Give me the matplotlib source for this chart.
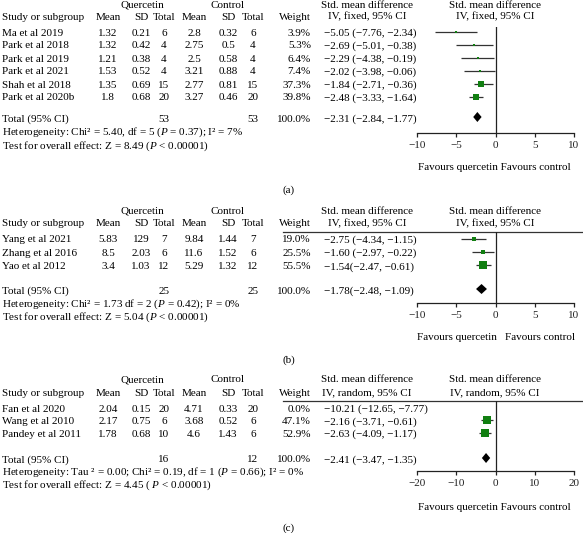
import matplotlib
matplotlib.use("Agg")
import matplotlib.pyplot as plt
from matplotlib.patches import Polygon

plt.rcParams['font.family'] = ['Liberation Serif', 'DejaVu Serif']
plt.rcParams['mathtext.fontset'] = 'custom'
plt.rcParams['mathtext.rm'] = 'Liberation Serif'
plt.rcParams['mathtext.it'] = 'Liberation Serif:italic'
plt.rcParams['mathtext.bf'] = 'Liberation Serif:bold'

# ---------------- data ----------------
A_studies = ["Ma et al 2019", "Park et al 2018", "Park et al 2019", "Park et al 2021",
             "Shah et al 2018", "Park et al 2020b"]
A_q_mean = [1.32, 1.32, 1.21, 1.53, 1.35, 1.8]
A_q_sd = [0.21, 0.42, 0.38, 0.52, 0.69, 0.68]
A_q_n = [6, 4, 4, 4, 15, 20]
A_c_mean = [2.8, 2.75, 2.5, 3.21, 2.77, 3.27]
A_c_sd = [0.32, 0.5, 0.58, 0.88, 0.81, 0.46]
A_c_n = [6, 4, 4, 4, 15, 20]
A_weight = [3.9, 5.3, 6.4, 7.4, 37.3, 39.8]
A_smd = [-5.05, -2.69, -2.29, -2.02, -1.84, -2.48]
A_lo = [-7.76, -5.01, -4.38, -3.98, -2.71, -3.33]
A_hi = [-2.34, -0.38, -0.19, -0.06, -0.36, -1.64]
A_total = [53, 53, 100.0, -2.31, -2.84, -1.77]

B_studies = ["Yang et al 2021", "Zhang et al 2016", "Yao et al 2012"]
B_q_mean = [5.83, 8.5, 3.4]
B_q_sd = [129, 2.03, 1.03]
B_q_n = [7, 6, 12]
B_c_mean = [9.84, 11.6, 5.29]
B_c_sd = [1.44, 1.52, 1.32]
B_c_n = [7, 6, 12]
B_weight = [19.0, 25.5, 55.5]
B_smd = [-2.75, -1.60, -1.54]
B_lo = [-4.34, -2.97, -2.47]
B_hi = [-1.15, -0.22, -0.61]
B_total = [25, 25, 100.0, -1.78, -2.48, -1.09]

C_studies = ["Fan et al 2020", "Wang et al 2010", "Pandey et al 2011"]
C_q_mean = [2.04, 2.17, 1.78]
C_q_sd = [0.15, 0.75, 0.68]
C_q_n = [20, 6, 10]
C_c_mean = [4.71, 3.68, 4.6]
C_c_sd = [0.33, 0.52, 1.43]
C_c_n = [20, 6, 6]
C_weight = [0.0, 47.1, 52.9]
C_smd = [-10.21, -2.16, -2.63]
C_lo = [-12.65, -3.71, -4.09]
C_hi = [-7.77, -0.61, -1.17]
C_total = [16, 12, 100.0, -2.41, -3.47, -1.35]

A_ticks = [-10, -5, 0, 5, 10]
B_ticks = [-10, -5, 0, 5, 10]
C_ticks = [-20, -10, 0, 10, 20]

A_het = ["Heterogeneity: Chi\u00b2 = 5.40, df = 5 ($\\mathit{P}$ = 0.37); I\u00b2 = 7%",
         "Test for overall effect: Z = 8.49 ($\\mathit{P}$ < 0.00001)"]
B_het = ["Heterogeneity: Chi\u00b2 = 1.73 df = 2 ($\\mathit{P}$ = 0.42); I\u00b2 = 0%",
         "Test for overall effect: Z = 5.04 ($\\mathit{P}$ < 0.00001)"]
C_het = ["Heterogeneity: Tau \u00b2 = 0.00; Chi\u00b2 = 0.19, df = 1 ($\\mathit{P}$ = 0.66); I\u00b2 = 0%",
         "Test for overall effect: Z = 4.45 ( $\\mathit{P}$ < 0.00001)"]

# ---------------- figure ----------------
W, H = 583, 533
fig = plt.figure(figsize=(W / 100, H / 100), dpi=100)
bg = fig.add_axes([0, 0, 1, 1])
bg.set_xlim(0, W)
bg.set_ylim(H, 0)
bg.axis('off')

FS = 8.0
GREEN = '#117f11'
MINUS = '\u2212'


def fmt(v):
    return f"{v:g}"


def fsmd(v):
    return f"{v:.2f}".replace('-', MINUS)


def ci_text(s, lo, hi, sep=" "):
    return f"{fsmd(s)}{sep}({fsmd(lo)}, {fsmd(hi)})"


X_NAME = 2
X_QM, X_QSD, X_QN = 108, 141, 164
X_CM, X_CSD, X_CN = 194, 228, 253
X_W = 311
X_CI = 324
X_LEFT, X_RIGHT = 417, 574


def panel(studies, qm, qsd, qn, cm, csd, cn, wt, smd, lo, hi, total, het,
          ticks, method, lay, seps, tot_sep, favours_split, label):
    t = lambda x, y, s, ha='left': bg.text(x, y, s, ha=ha, va='center', fontsize=FS)
    t(142, lay['title'], "Quercetin", 'center')
    t(228, lay['title'], "Control", 'center')
    t(367, lay['title'], "Std. mean difference", 'center')
    t(495, lay['title'], "Std. mean difference", 'center')
    hy = lay['header']
    t(X_NAME, hy, "Study or subgroup")
    t(X_QM, hy, "Mean", 'center'); t(X_QSD, hy, "SD", 'center'); t(X_QN, hy, "Total", 'center')
    t(X_CM, hy, "Mean", 'center'); t(X_CSD, hy, "SD", 'center'); t(X_CN, hy, "Total", 'center')
    t(X_W, hy, "Weight", 'right')
    t(367, hy, f"IV, {method}, 95% CI", 'center')
    t(495, hy, f"IV, {method}, 95% CI", 'center')
    if lay['line'] is not None:
        bg.plot([283, W], [lay['line'], lay['line']], color='#333333', lw=0.9)

    ys = [lay['row0'] + i * lay['pitch'] for i in range(len(studies))]
    for i, y in enumerate(ys):
        t(X_NAME, y, studies[i])
        t(X_QM, y, fmt(qm[i]), 'center'); t(X_QSD, y, fmt(qsd[i]), 'center'); t(X_QN, y, fmt(qn[i]), 'center')
        t(X_CM, y, fmt(cm[i]), 'center'); t(X_CSD, y, fmt(csd[i]), 'center'); t(X_CN, y, fmt(cn[i]), 'center')
        t(X_W, y, f"{wt[i]:.1f}%", 'right')
        t(X_CI, y, ci_text(smd[i], lo[i], hi[i], seps[i]))
    ty = lay['total']
    t(X_NAME, ty, "Total (95% CI)")
    t(X_QN, ty, fmt(total[0]), 'center')
    t(X_CN, ty, fmt(total[1]), 'center')
    t(X_W, ty, f"{total[2]:.1f}%", 'right')
    t(X_CI, ty, ci_text(total[3], total[4], total[5], tot_sep))
    t(X_NAME, lay['het'], het[0])
    t(X_NAME, lay['test'], het[1])
    t(289, lay['label'], label, 'center')

    # forest axes
    top, bot = lay['vtop'], lay['axis']
    ax = fig.add_axes([X_LEFT / W, 1 - bot / H, (X_RIGHT - X_LEFT) / W, (bot - top) / H])
    ax.set_xlim(ticks[0], ticks[-1])
    ax.set_ylim(bot, top)
    ax.patch.set_alpha(0)
    for s in ['top', 'right', 'left']:
        ax.spines[s].set_visible(False)
    ax.spines['bottom'].set_linewidth(0.9)
    ax.spines['bottom'].set_color('#222222')
    ax.set_yticks([])
    ax.set_xticks(ticks)
    ax.set_xticklabels([str(v).replace('-', MINUS) for v in ticks], fontsize=FS)
    ax.tick_params(axis='x', direction='out', length=3, width=0.9, pad=2.5, colors='#222222')
    ax.axvline(0, color='#222222', lw=0.9)
    for i, y in enumerate(ys):
        if wt[i] <= 0:
            continue
        my = y - 1.5
        ax.plot([lo[i], hi[i]], [my, my], color='#333333', lw=0.9, solid_capstyle='butt')
        side = max(2.8, 0.16 * wt[i])
        ax.plot([smd[i]], [my], marker='s', ms=side * 0.72, color=GREEN, mec=GREEN, mew=0)
    dy = ty - 2
    hh = 5
    ax.add_patch(Polygon([(total[4], dy), (total[3], dy - hh), (total[5], dy), (total[3], dy + hh)],
                         closed=True, color='black', lw=0))
    # favours
    if favours_split:
        t(497, lay['fav'], "Favours quercetin", 'right')
        t(505, lay['fav'], "Favours control")
    else:
        t(494, lay['fav'], "Favours quercetin Favours control", 'center')


panel(A_studies, A_q_mean, A_q_sd, A_q_n, A_c_mean, A_c_sd, A_c_n, A_weight, A_smd, A_lo, A_hi,
      A_total, A_het, A_ticks, "fixed",
      dict(title=5, header=17, row0=33, pitch=13.0, total=119, het=132, test=146,
           vtop=27, axis=133, fav=168, label=190, line=None),
      [" "] * 6, " ", False, "(a)")

panel(B_studies, B_q_mean, B_q_sd, B_q_n, B_c_mean, B_c_sd, B_c_n, B_weight, B_smd, B_lo, B_hi,
      B_total, B_het, B_ticks, "fixed",
      dict(title=211, header=224, row0=240, pitch=13.4, total=291, het=304, test=317,
           vtop=232, axis=303, fav=337, label=360, line=232),
      [" ", " ", ""], "", True, "(b)")

panel(C_studies, C_q_mean, C_q_sd, C_q_n, C_c_mean, C_c_sd, C_c_n, C_weight, C_smd, C_lo, C_hi,
      C_total, C_het, C_ticks, "random",
      dict(title=380, header=393, row0=409, pitch=12.8, total=460, het=472, test=485,
           vtop=401, axis=471, fav=507, label=528, line=401),
      [" "] * 3, " ", False, "(c)")

fig.savefig("out.png", dpi=100)
